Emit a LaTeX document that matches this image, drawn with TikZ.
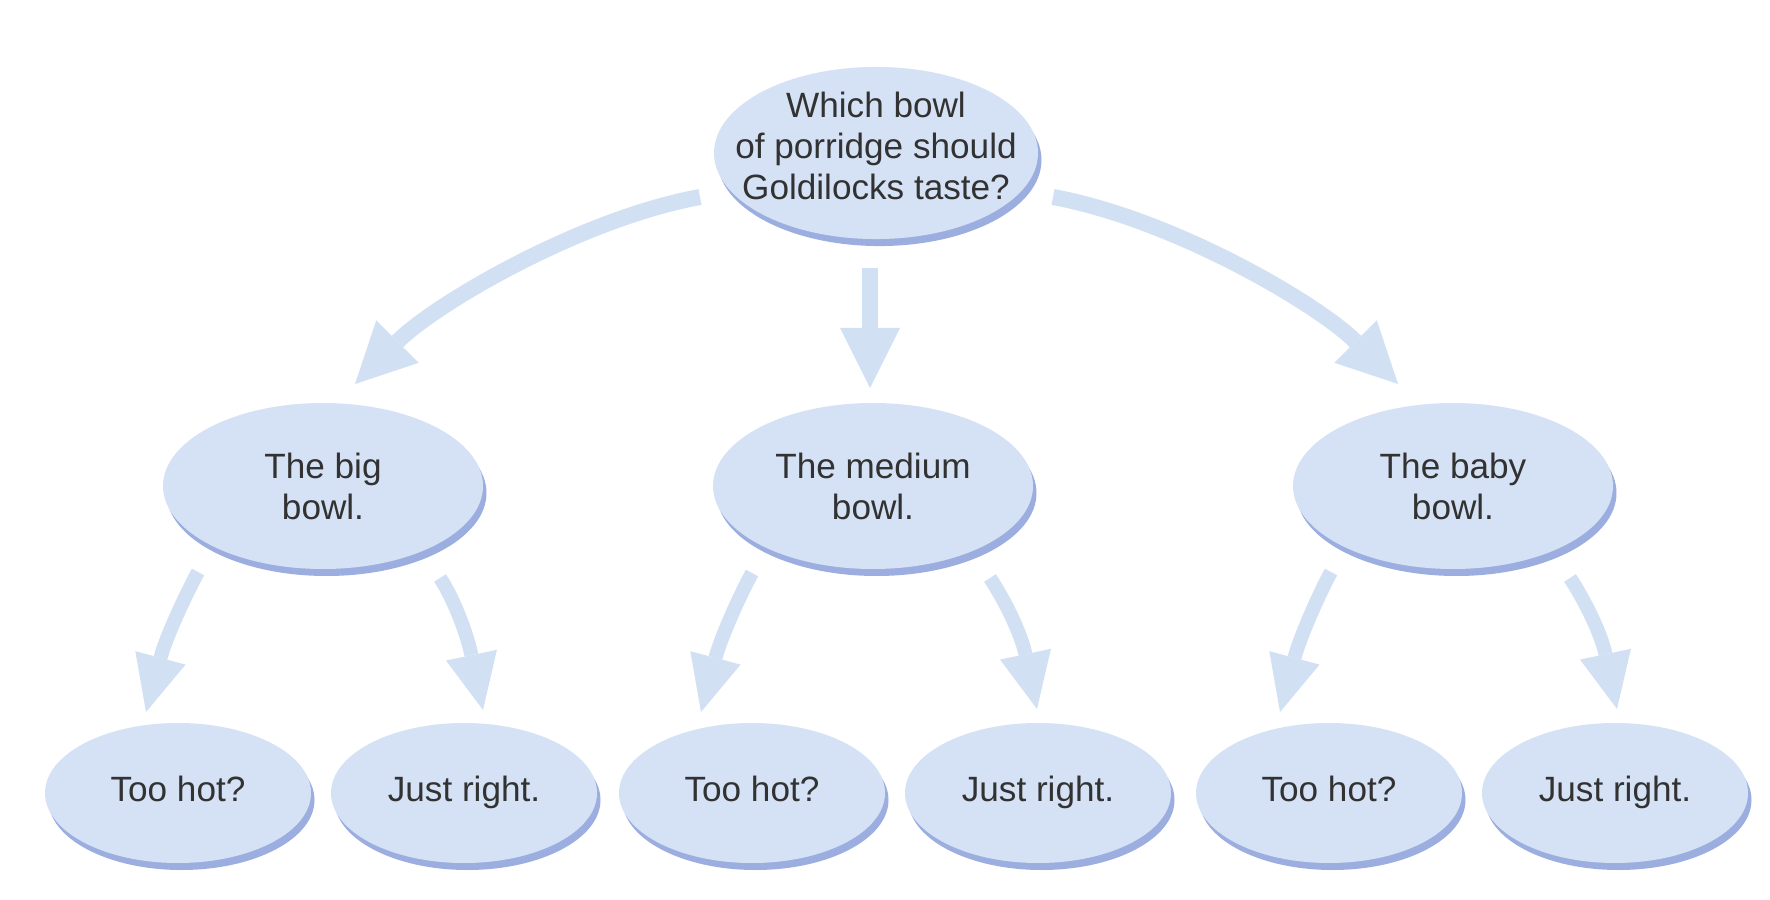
\documentclass[tikz,border=0pt]{standalone}
\usepackage{fontspec}
\setmainfont{Liberation Sans}
\usetikzlibrary{shapes.geometric,arrows.meta,shadows}
\definecolor{bowlfill}{RGB}{213,226,245}
\definecolor{bowlrim}{RGB}{156,174,224}
\definecolor{arrowcol}{RGB}{210,224,244}
\definecolor{txt}{RGB}{50,50,50}
\begin{document}
\begin{tikzpicture}[x=0.1mm,y=-0.1mm,
  bowl/.style={ellipse, fill=bowlfill, inner xsep=-3mm, inner ysep=0pt, text=txt, align=center,
    font=\fontsize{10}{11.7}\selectfont,
    drop shadow={shadow xshift=0.35mm, shadow yshift=-0.7mm, fill=bowlrim, opacity=1}},
  topbowl/.style={bowl, minimum width=32.4mm, minimum height=16.6mm, text depth=1.4mm},
  midbowl/.style={bowl, minimum width=32mm, minimum height=16.6mm},
  lowbowl/.style={bowl, minimum width=26.6mm, minimum height=14mm, text height=7.3pt, text depth=2.4pt},
  bigarrow/.style={draw=arrowcol, line width=1.6mm, line cap=butt,
    -{Triangle[width=6mm,length=6mm,line width=0pt]}},
  smallarrow/.style={draw=arrowcol, line width=1.4mm, line cap=butt,
    -{Triangle[width=5.2mm,length=5.6mm,line width=0pt]}}
]
\fill[white] (0,0) rectangle (1770,900);
\useasboundingbox (0,0) rectangle (1770,900);

% nodes
\node[topbowl] (q) at (876,153) {Which bowl\\of porridge should\\Goldilocks taste?};
\node[midbowl] (big) at (323,486) {The big\\bowl.};
\node[midbowl] (med) at (873,486) {The medium\\bowl.};
\node[midbowl] (baby) at (1453,486) {The baby\\bowl.};
\node[lowbowl] (b1) at (178,793) {Too hot?};
\node[lowbowl] (b2) at (464,793) {Just right.};
\node[lowbowl] (m1) at (752,793) {Too hot?};
\node[lowbowl] (m2) at (1038,793) {Just right.};
\node[lowbowl] (s1) at (1329,793) {Too hot?};
\node[lowbowl] (s2) at (1615,793) {Just right.};

% arrow end points
\coordinate (qLs) at (700,197);  \coordinate (qLe) at (355,384);
\coordinate (qMs) at (870,268);  \coordinate (qMe) at (870,388);
\coordinate (qRs) at (1053,197); \coordinate (qRe) at (1398,384);
\coordinate (bigLs) at (198,572);  \coordinate (bigLe) at (146,712);
\coordinate (bigRs) at (440,578);  \coordinate (bigRe) at (483,710);
\coordinate (medLs) at (752,573);  \coordinate (medLe) at (701,712);
\coordinate (medRs) at (990,578);  \coordinate (medRe) at (1037,709);
\coordinate (babyLs) at (1331,572); \coordinate (babyLe) at (1280,712);
\coordinate (babyRs) at (1570,578); \coordinate (babyRe) at (1617,709);

% top arrows
\draw[bigarrow] (qLs) .. controls +(-120,22) and +(80,-80) .. (qLe);
\draw[bigarrow] (qMs) -- (qMe);
\draw[bigarrow] (qRs) .. controls +(120,22) and +(-80,-80) .. (qRe);

% lower arrows
\draw[smallarrow] (bigLs) .. controls +(-12,22) and +(20,-75) .. (bigLe);
\draw[smallarrow] (bigRs) .. controls +(14,21) and +(-16,-76) .. (bigRe);
\draw[smallarrow] (medLs) .. controls +(-12,22) and +(20,-75) .. (medLe);
\draw[smallarrow] (medRs) .. controls +(14,21) and +(-16,-76) .. (medRe);
\draw[smallarrow] (babyLs) .. controls +(-12,22) and +(20,-75) .. (babyLe);
\draw[smallarrow] (babyRs) .. controls +(14,21) and +(-16,-76) .. (babyRe);
\end{tikzpicture}
\end{document}
